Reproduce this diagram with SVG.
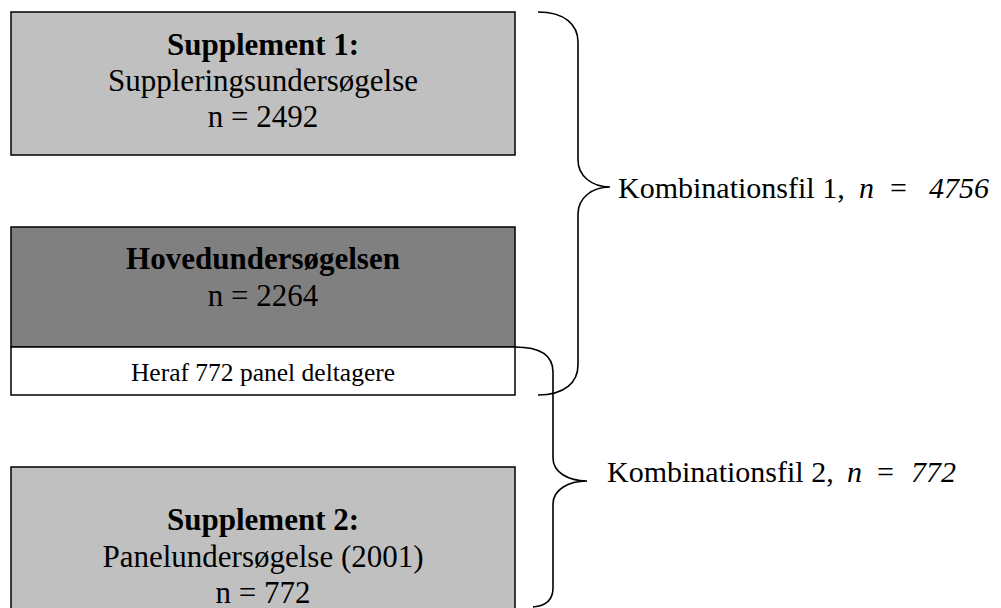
<svg xmlns="http://www.w3.org/2000/svg" width="1001" height="608" viewBox="0 0 1001 608">
<style>
.box{stroke:#000;stroke-width:1.5}
.t{font-family:"Liberation Serif","Times New Roman",serif;font-size:31px;fill:#000;text-anchor:middle}
.b{font-weight:bold}
.s{font-size:25.5px}
.k{font-family:"Liberation Serif","Times New Roman",serif;font-size:30px;fill:#000}
.i{font-style:italic}
.br{fill:none;stroke:#000;stroke-width:1.6}
</style>
<rect x="0" y="0" width="1001" height="608" fill="#fff"/>
<g id="supplement1">
<rect class="box" x="11" y="12" width="504" height="143" fill="#c0c0c0"/>
<text class="t b" x="263" y="55">Supplement 1:</text>
<text class="t" x="263" y="91">Suppleringsundersøgelse</text>
<text class="t" x="263" y="127">n = 2492</text>
</g>
<g id="hovedundersogelsen">
<rect class="box" x="11" y="227" width="504" height="120" fill="#808080"/>
<text class="t b" x="263" y="269">Hovedundersøgelsen</text>
<text class="t" x="263" y="306">n = 2264</text>
</g>
<g id="panel">
<rect class="box" x="11" y="347" width="504" height="48" fill="#fff"/>
<text class="t s" x="263" y="381">Heraf 772 panel deltagere</text>
</g>
<g id="supplement2">
<rect class="box" x="11" y="467" width="504" height="160" fill="#c0c0c0"/>
<text class="t b" x="263" y="530">Supplement 2:</text>
<text class="t" x="263" y="567">Panelundersøgelse (2001)</text>
<text class="t" x="263" y="603">n = 772</text>
</g>
<g id="connectors">
<path class="br" d="M538,12 C565,12 578,25 578,42 L578,160 C578,176 592,187 610,187 C592,187 578,198 578,214 L578,365 C578,382 565,395 538,395"/>
<path class="br" d="M515,347 C540,347 553,355 553,372 L553,458 C553,472 568,481 587,481 C568,481 553,490 553,504 L553,588 C553,600 545,606 533,607"/>
</g>
<g id="label1">
<text class="k" x="618" y="198">Kombinationsfil 1, <tspan class="i" x="859">n</tspan><tspan x="890">=</tspan><tspan class="i" x="929">4756</tspan></text>
</g>
<g id="label2">
<text class="k" x="607" y="482">Kombinationsfil 2, <tspan class="i" x="847">n</tspan><tspan x="877">=</tspan><tspan class="i" x="911">772</tspan></text>
</g>
</svg>
